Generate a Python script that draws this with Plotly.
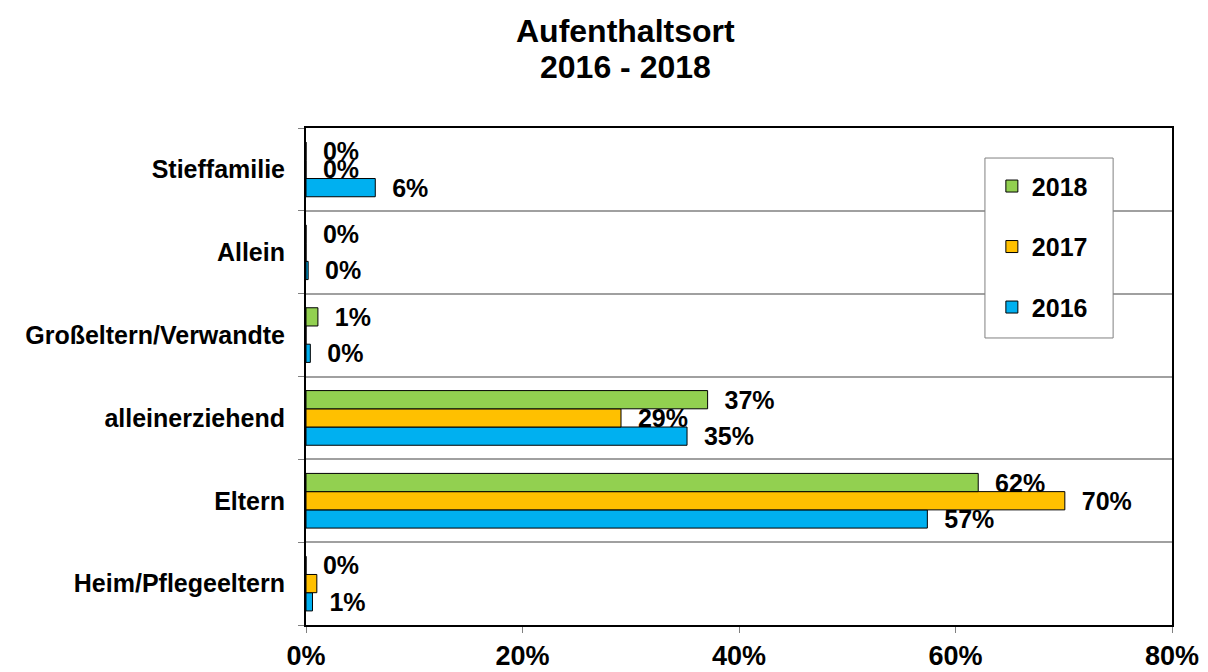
import plotly.graph_objects as go

# categories bottom -> top
categories = ["Heim/Pflegeeltern", "Eltern", "alleinerziehend",
              "Großeltern/Verwandte", "Allein", "Stieffamilie"]

years = ["2016", "2017", "2018"]
colors = {"2016": "#00B0F0", "2017": "#FFC000", "2018": "#92D050"}

values = {
    "2016": [0.6, 57.4, 35.2, 0.4, 0.2, 6.4],
    "2017": [1.0, 70.1, 29.1, 0.0, 0.0, 0.0],
    "2018": [0.0, 62.1, 37.1, 1.1, 0.0, 0.0],
}

labels = {
    "2016": ["1%", "57%", "35%", "0%", "0%", "6%"],
    "2017": ["", "70%", "29%", "", "", "0%"],
    "2018": ["0%", "62%", "37%", "1%", "0%", "0%"],
}

x_ticks = [0, 20, 40, 60, 80]

FONT = "Liberation Sans, Arial, sans-serif"
pad = "\u00a0\u00a0"

fig = go.Figure()
for i, yr in enumerate(years):
    fig.add_trace(go.Bar(
        y=categories,
        x=values[yr],
        name=yr,
        orientation="h",
        marker=dict(color=colors[yr], line=dict(color="black", width=1)),
        text=[pad + t if t else "" for t in labels[yr]],
        textposition="outside",
        constraintext="none",
        cliponaxis=False,
        textfont=dict(family=FONT, size=25, color="black", weight="bold"),
        legendgroup=yr,
        legendrank=len(years) - i,  # 2018 on top of the legend
    ))

# legend frame (Excel-style box)
fig.add_shape(type="rect", xref="paper", yref="paper",
              x0=0.784, x1=0.932, y0=0.5775, y1=0.9396,
              line=dict(color="#808080", width=1), fillcolor="white",
              layer="above")

# two-line title as annotations for tighter line spacing
fig.add_annotation(text="<b>Aufenthaltsort</b>", xref="paper", yref="paper",
                   x=0.3684, y=1.195, xanchor="center", yanchor="middle",
                   showarrow=False, font=dict(family=FONT, size=32, color="black"))
fig.add_annotation(text="<b>2016 - 2018</b>", xref="paper", yref="paper",
                   x=0.3684, y=1.122, xanchor="center", yanchor="middle",
                   showarrow=False, font=dict(family=FONT, size=32, color="black"))

fig.update_layout(
    width=1208, height=672,
    paper_bgcolor="white", plot_bgcolor="white",
    margin=dict(l=298, r=44, t=120, b=55),
    barmode="group",
    bargap=0.34,
    bargroupgap=0,
    font=dict(family=FONT, color="black"),
    legend=dict(
        x=0.792, y=0.929, xanchor="left", yanchor="top",
        traceorder="grouped",
        bgcolor="rgba(0,0,0,0)", borderwidth=0,
        font=dict(family=FONT, size=25, color="black", weight="bold"),
        tracegroupgap=25,
    ),
    xaxis=dict(
        range=[0, 80],
        tickvals=x_ticks,
        ticktext=[f"{v}%" for v in x_ticks],
        showgrid=False, zeroline=False,
        showline=True, linecolor="black", linewidth=2, mirror=True,
        ticks="outside", ticklen=6, tickcolor="#808080",
        tickfont=dict(family=FONT, size=27, color="black", weight="bold"),
        ticklabelstandoff=0,
        automargin=False,
    ),
    yaxis=dict(
        type="category",
        tickson="boundaries",
        showgrid=True, gridcolor="#a0a0a0", gridwidth=1.5,
        showline=True, linecolor="black", linewidth=2, mirror=True,
        ticks="outside", ticklen=6, tickcolor="#808080",
        tickfont=dict(family=FONT, size=25, color="black", weight="bold"),
        ticklabelstandoff=14,
        automargin=False,
    ),
)

fig.write_html("out.html")
